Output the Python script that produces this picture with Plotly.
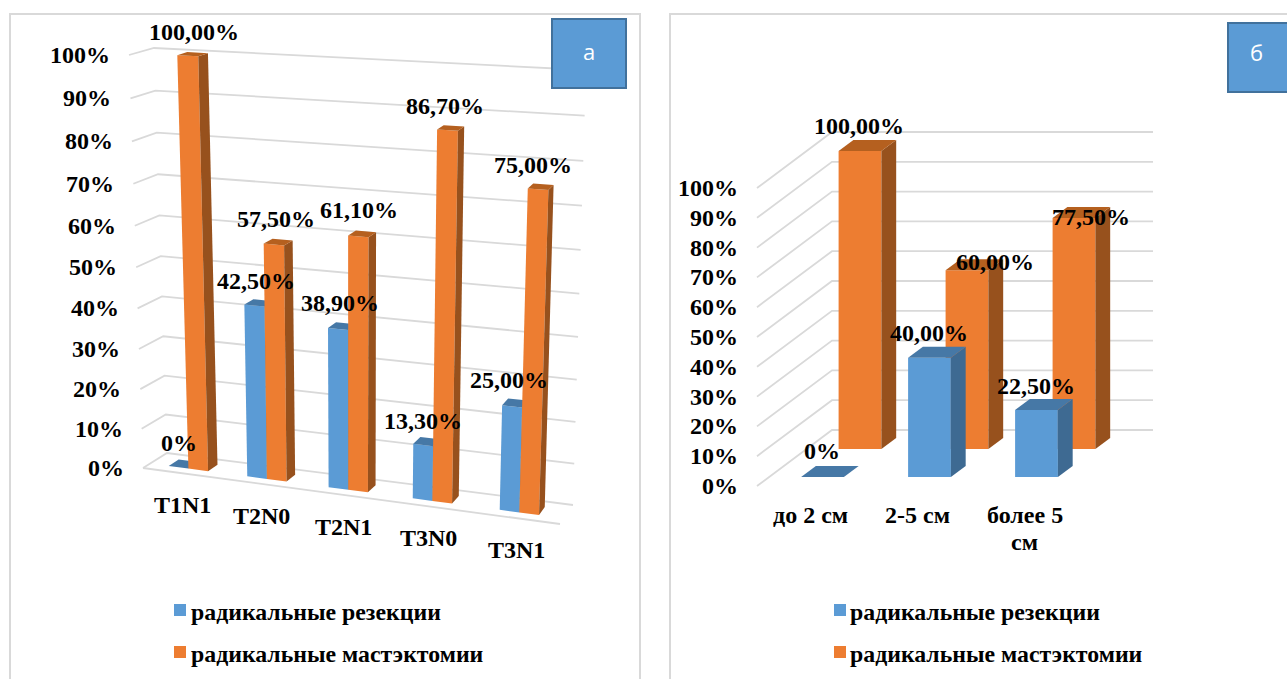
import plotly.graph_objects as go

# Panel "а": share of operations by TN stage
stage_categories = ["T1N1", "T2N0", "T2N1", "T3N0", "T3N1"]
stage_resections = [0, 42.5, 38.9, 13.3, 25.0]
stage_mastectomies = [100.0, 57.5, 61.1, 86.7, 75.0]

# Panel "б": share of operations by tumour size
size_categories = ["до 2 см", "2-5 см", "более 5<br>см"]
size_resections = [0, 40.0, 22.5]
size_mastectomies = [100.0, 60.0, 77.5]

axis_ticks = [0, 10, 20, 30, 40, 50, 60, 70, 80, 90, 100]
series_names = ["радикальные резекции", "радикальные мастэктомии"]

BLUE = ("#5B9BD5", "#3E6A92", "#4678A6")
ORANGE = ("#ED7D31", "#97511D", "#B5601F")
GRID = "#D9D9D9"
SERIF = "Liberation Serif"
TEXT_SIZE = 24
LEGEND_SIZE = 23.8


def mix(a, b, t):
    return a + (b - a) * t


def left_view(u, d, v):
    """Perspective box of panel а: u along categories, d into depth, v in percent."""
    h = v / 100
    h = h - 0.056 * h * (1 - h)
    fb = (mix(143, 560, u), mix(468, 524, u))
    bb = (mix(167, 573, u), mix(453, 505, u))
    ft = (mix(129, 575, u), mix(55, 80, u))
    bt = (mix(154, 586, u), mix(48, 70, u))
    bottom = (mix(fb[0], bb[0], d), mix(fb[1], bb[1], d))
    top = (mix(ft[0], bt[0], d), mix(ft[1], bt[1], d))
    return mix(bottom[0], top[0], h), mix(bottom[1], top[1], h)


def left_slot(i):
    u = (i + 0.5) / len(stage_categories)
    return u - 0.085 * u * (1 - u)


def right_view(u, d, v):
    """Oblique box of panel б: u in category widths, d into depth, v in percent."""
    return 757 + 107 * u + 75 * d, 486 - 2.98 * v - 56 * d


def add_poly(fig, pts, color):
    xs = [p[0] for p in pts] + [pts[0][0]]
    ys = [p[1] for p in pts] + [pts[0][1]]
    fig.add_trace(go.Scatter(x=xs, y=ys, mode="lines", fill="toself", fillcolor=color,
                             line=dict(width=0, color=color), hoverinfo="skip",
                             showlegend=False))


def add_line(fig, pts):
    fig.add_trace(go.Scatter(x=[p[0] for p in pts], y=[p[1] for p in pts], mode="lines",
                             line=dict(width=1.8, color=GRID), hoverinfo="skip",
                             showlegend=False))


def add_box(fig, view, u0, u1, d0, d1, value, colors):
    front, side, top = colors
    add_poly(fig, [view(u0, d0, 0), view(u1, d0, 0), view(u1, d0, value), view(u0, d0, value)], front)
    add_poly(fig, [view(u1, d0, 0), view(u1, d1, 0), view(u1, d1, value), view(u1, d0, value)], side)
    add_poly(fig, [view(u0, d0, value), view(u1, d0, value), view(u1, d1, value), view(u0, d1, value)], top)


def text(fig, x, y, label, xanchor="center", yanchor="middle", size=TEXT_SIZE, color="#000000",
         family=SERIF, bold=True, xshift=0, yshift=0):
    fig.add_annotation(x=x, y=y, text=f"<b>{label}</b>" if bold else label, showarrow=False,
                       xanchor=xanchor, yanchor=yanchor, xshift=xshift, yshift=yshift, align="center",
                       font=dict(family=family, size=size, color=color))


def percent_label(value):
    return "0%" if value == 0 else f"{value:.2f}%".replace(".", ",")


fig = go.Figure()

# Panel а: walls and floor
for t in axis_ticks:
    add_line(fig, [left_view(0, 0, t), left_view(0, 1, t), left_view(1, 1, t)])
add_line(fig, [left_view(0, 0, 0), left_view(1, 0, 0)])

# Panel а: paired columns in one depth row
half = 0.0475
near, far = 0.3, 0.72
for i in range(len(stage_categories)):
    s = left_slot(i)
    add_box(fig, left_view, s - half, s, near, far, stage_resections[i], BLUE)
    add_box(fig, left_view, s, s + half, near, far, stage_mastectomies[i], ORANGE)

# Panel б: walls
for t in axis_ticks:
    add_line(fig, [right_view(0, 0, t), right_view(0, 1, t), right_view(3, 1, t)])

# Panel б: the mastectomy row stands behind the resection row
half_b = 0.2
for i in range(len(size_categories)):
    add_box(fig, right_view, i + 0.5 - half_b, i + 0.5 + half_b, 0.66, 0.857, size_mastectomies[i], ORANGE)
for i in range(len(size_categories)):
    add_box(fig, right_view, i + 0.5 - half_b, i + 0.5 + half_b, 0.16, 0.357, size_resections[i], BLUE)

# Axis tick labels
for t in axis_ticks:
    x, y = left_view(0, 0, t)
    text(fig, x, y, f"{t}%", xanchor="right", xshift=-17)
    x, y = right_view(0, 0, t)
    text(fig, x, y, f"{t}%", xanchor="right", xshift=-17)

# Category labels; wrapped names keep a tight line pitch
for i, name in enumerate(stage_categories):
    x, y = left_view(left_slot(i), 0, 0)
    text(fig, x, y, name, xshift=1, yshift=-32)
for i, name in enumerate(size_categories):
    x, y = right_view(i + 0.5, 0, 0)
    for line_no, part in enumerate(name.split("<br>")):
        text(fig, x, y, part, yshift=-29 - 27 * line_no)

# Value labels sit above the column tops
left_shift_res = [(0, 24), (2, 25), (2, 26), (0, 24), (-3, 26)]
left_shift_mas = [(6, 24), (2, 26), (1, 26), (-3, 24), (-5, 24)]
for i in range(len(stage_categories)):
    s = left_slot(i)
    x, y = left_view(s - half / 2, near, stage_resections[i])
    text(fig, x, y, percent_label(stage_resections[i]), xshift=left_shift_res[i][0],
         yshift=left_shift_res[i][1])
    x, y = left_view(s + half / 2, near, stage_mastectomies[i])
    text(fig, x, y, percent_label(stage_mastectomies[i]), xshift=left_shift_mas[i][0],
         yshift=left_shift_mas[i][1])

right_shift_res = [(-1, 26), (-1, 25), (-1, 24)]
right_shift_mas = [(-1, 25), (28, 8), (17, 1)]
for i in range(len(size_categories)):
    x, y = right_view(i + 0.5, 0.16, size_resections[i])
    text(fig, x, y, percent_label(size_resections[i]), xshift=right_shift_res[i][0],
         yshift=right_shift_res[i][1])
    x, y = right_view(i + 0.5, 0.66, size_mastectomies[i])
    text(fig, x, y, percent_label(size_mastectomies[i]), xshift=right_shift_mas[i][0],
         yshift=right_shift_mas[i][1])

# Legend blocks of both panels
for swatch_x, text_x in ((180, 189), (840, 848)):
    for name, colors, row_y in zip(series_names, (BLUE, ORANGE), (610, 652)):
        fig.add_trace(go.Scatter(x=[swatch_x], y=[row_y], mode="markers",
                                 marker=dict(symbol="square", size=12, color=colors[0]),
                                 hoverinfo="skip", showlegend=False))
        text(fig, text_x, row_y + 2, name, xanchor="left", size=LEGEND_SIZE)

# Panel letters
text(fig, 589, 51, "а", size=22, color="#FFFFFF", family="Open Sans", bold=False)
text(fig, 1256, 52, "б", size=22, color="#FFFFFF", family="Open Sans", bold=False)

frame = dict(color=GRID, width=2)
shapes = [
    dict(type="rect", x0=10, x1=640, y0=14, y1=720, line=frame),
    dict(type="rect", x0=670, x1=1320, y0=14, y1=720, line=frame),
    dict(type="rect", x0=552, x1=626, y0=19, y1=88, fillcolor=BLUE[0], line=dict(color="#41719C", width=2)),
    dict(type="rect", x0=1228, x1=1320, y0=23, y1=92, fillcolor=BLUE[0], line=dict(color="#41719C", width=2)),
]

fig.update_layout(
    width=1287, height=679, autosize=False,
    margin=dict(l=0, r=0, t=0, b=0),
    paper_bgcolor="#FFFFFF", plot_bgcolor="#FFFFFF",
    showlegend=False, shapes=shapes,
    xaxis=dict(range=[0, 1287], visible=False, fixedrange=True),
    yaxis=dict(range=[679, 0], visible=False, fixedrange=True),
)

fig.write_html("out.html", config=dict(displayModeBar=False))
